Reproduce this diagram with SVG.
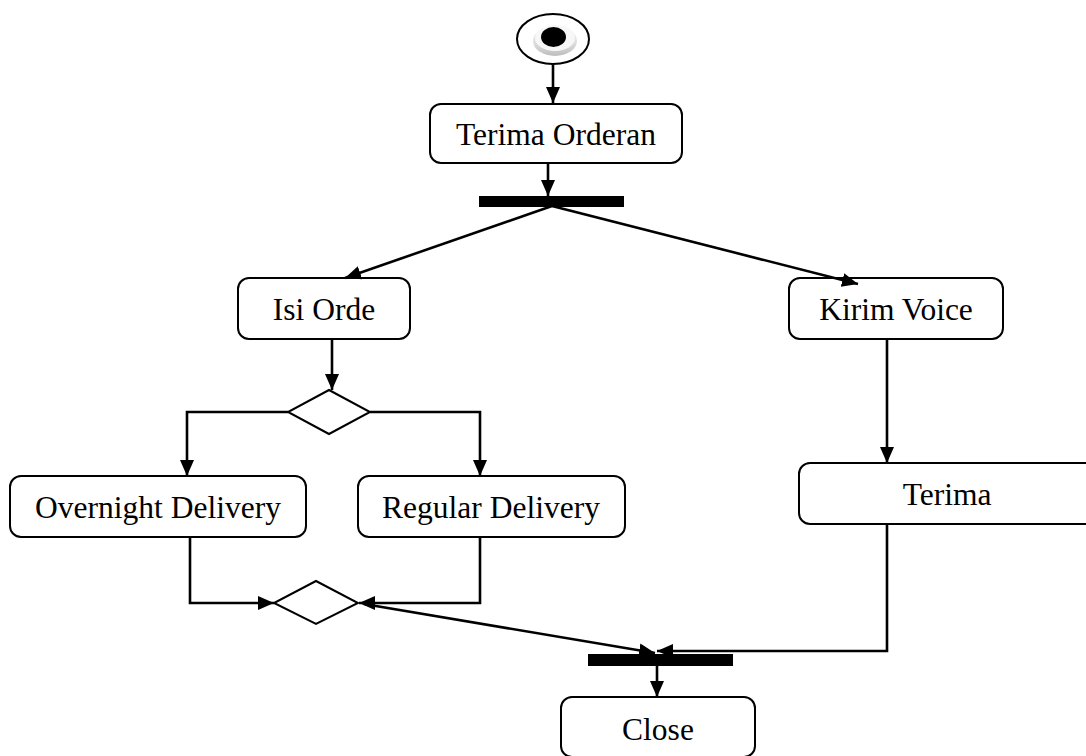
<svg xmlns="http://www.w3.org/2000/svg" width="1086" height="756" viewBox="0 0 1086 756">
  <style>
    .box { fill: #ffffff; stroke: #000000; stroke-width: 2; }
    .lbl { font-family: "Liberation Serif", "Times New Roman", serif; font-size: 31.5px; fill: #000000; text-anchor: middle; }
    .bar { fill: #000000; }
    .dia { fill: #ffffff; stroke: #000000; stroke-width: 2; }
    .edge { fill: none; stroke: #000000; stroke-width: 2.6; marker-end: url(#arrow); }
  </style>
  <defs>
    <marker id="arrow" markerUnits="userSpaceOnUse" markerWidth="18" markerHeight="18" viewBox="0 0 18 18" refX="16" refY="9" orient="auto">
      <path d="M0,2 L16,9 L0,16 Z" fill="#000000"/>
    </marker>
    <linearGradient id="btn" x1="0" y1="0" x2="0" y2="1">
      <stop offset="0" stop-color="#f4f4f4"/>
      <stop offset="0.6" stop-color="#dcdcdc"/>
      <stop offset="1" stop-color="#bdbdbd"/>
    </linearGradient>
  </defs>

  <rect width="1086" height="756" fill="#ffffff"/>

  <!-- start node -->
  <g id="start">
    <ellipse cx="553" cy="39" rx="36" ry="25" fill="#ffffff" stroke="#000000" stroke-width="2"/>
    <ellipse cx="555" cy="41" rx="22" ry="15" fill="url(#btn)"/>
    <ellipse cx="555" cy="38" rx="20" ry="13" fill="#f7f7f7"/>
    <ellipse cx="553.5" cy="37" rx="12.5" ry="10" fill="#000000"/>
  </g>

  <g id="terima-orderan">
    <rect class="box" x="430" y="104" width="252" height="59" rx="11"/>
    <text class="lbl" x="556" y="145">Terima Orderan</text>
  </g>

  <g id="fork">
    <rect class="bar" x="479" y="196" width="145" height="11"/>
  </g>

  <g id="isi-orde">
    <rect class="box" x="238" y="278" width="172" height="61" rx="11"/>
    <text class="lbl" x="324" y="320">Isi Orde</text>
  </g>

  <g id="kirim-voice">
    <rect class="box" x="789" y="278" width="214" height="61" rx="11"/>
    <text class="lbl" x="896" y="320">Kirim Voice</text>
  </g>

  <g id="decision">
    <polygon class="dia" points="329,390 370,412 329,434 288,412"/>
  </g>

  <g id="overnight-delivery">
    <rect class="box" x="10" y="476" width="296" height="61" rx="11"/>
    <text class="lbl" x="158" y="518">Overnight Delivery</text>
  </g>

  <g id="regular-delivery">
    <rect class="box" x="358" y="476" width="267" height="61" rx="11"/>
    <text class="lbl" x="491" y="518">Regular Delivery</text>
  </g>

  <g id="terima">
    <rect class="box" x="799" y="463" width="300" height="61" rx="11"/>
    <text class="lbl" x="947" y="505">Terima</text>
  </g>

  <g id="merge">
    <polygon class="dia" points="316,581 358,603 316,624 274,603"/>
  </g>

  <g id="join">
    <rect class="bar" x="588" y="654" width="145" height="12"/>
  </g>

  <g id="close">
    <rect class="box" x="561" y="697" width="194" height="60" rx="11"/>
    <text class="lbl" x="658" y="740">Close</text>
  </g>

  <!-- connectors -->
  <g id="connectors">
    <path class="edge" d="M553,64 L553,103"/>
    <path class="edge" d="M548,163 L548,196"/>
    <path class="edge" d="M552,206 L345,278"/>
    <path class="edge" d="M552,206 L858,284"/>
    <path class="edge" d="M332,339 L332,390"/>
    <path class="edge" d="M288,412 L187,412 L187,476"/>
    <path class="edge" d="M370,412 L480,412 L480,476"/>
    <path class="edge" d="M190,537 L190,603 L274,603"/>
    <path class="edge" d="M480,537 L480,603 L359,603"/>
    <path class="edge" d="M364,604 L655,653"/>
    <path class="edge" d="M887,339 L887,463"/>
    <path class="edge" d="M887,524 L887,651 L657,651"/>
    <path class="edge" d="M657,666 L657,697"/>
  </g>
</svg>
